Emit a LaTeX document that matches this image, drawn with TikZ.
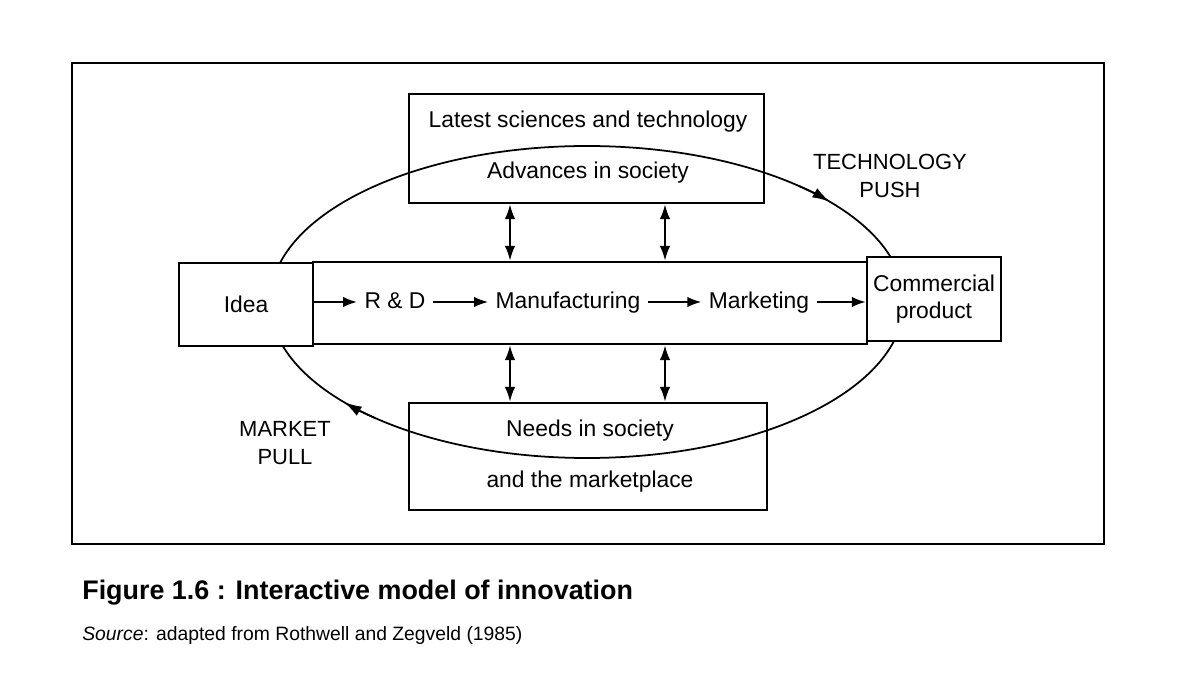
\documentclass[tikz,border=0pt]{standalone}
\usepackage{fontspec}
\setmainfont{Liberation Sans}
\usetikzlibrary{arrows.meta,fit}

\begin{document}
\begin{tikzpicture}[x=0.02cm, y=-0.02cm, font=\fontsize{13}{15}\selectfont,
    box/.style={draw, line width=1.3pt, inner sep=0pt},
    word/.style={inner sep=4pt, text height=9.5pt, text depth=2.5pt},
    arr/.style={-{Latex[length=8pt,width=6pt]}, line width=1.3pt},
    darr/.style={{Latex[length=8.5pt,width=6pt]}-{Latex[length=8.5pt,width=6pt]}, line width=1.3pt},
    cyc/.style={-{Latex[length=10pt,width=6pt]}, line width=1pt}]

\useasboundingbox (0,0) rectangle (1194,692);

% outer frame
\draw[line width=1.4pt] (72,63) rectangle (1104,544);

% the cycle, clockwise
\draw[line width=1pt] (587,302) ellipse [x radius=317, y radius=156];
\draw[cyc] (587,302) ++(-48:317 and 156) arc[start angle=-48, end angle=-40, x radius=317, y radius=156];
\draw[cyc] (587,302) ++(132:317 and 156) arc[start angle=132, end angle=140, x radius=317, y radius=156];

% top and bottom boxes
\node[box, fit={(409,94) (764,203)}] (tech) {};
\node at (588,122) (t1) {Latest sciences and technology};
\node at (588,173) (t2) {Advances in society};

\node[box, fit={(409,403) (767,510)}] (need) {};
\node at (590,431) (n1) {Needs in society};
\node at (590,482) (n2) {and the marketplace};

% middle chain
\node[box, fill=white, fit={(313,262) (867,344)}] (chain) {};
\node[box, fill=white, fit={(179,263) (313,346)}] (idea) {};
\node at (idea) {Idea};
\node[box, fill=white, fit={(867,257) (1001,341)}] (prod) {};
\node[align=center] at (prod) {Commercial\\product};

\foreach \name/\x/\txt in {rd/395/R \& D, manu/568/Manufacturing, mark/759/Marketing} {
    \node[word] (\name) at (\x,302) {\txt};
}

\draw[arr] (idea.east |- rd) -- (rd);
\draw[arr] (rd) -- (manu);
\draw[arr] (manu) -- (mark);
\draw[arr] (mark) -- (prod.west |- mark);

% links up and down
\coordinate (l) at (510,0);
\coordinate (r) at (665,0);
\foreach \c in {l,r} {
    \draw[darr] (tech.south -| \c) -- (chain.north -| \c);
    \draw[darr] (chain.south -| \c) -- (need.north -| \c);
}

% labels on the cycle
\node[align=center, font=\fontsize{12.5}{15.5}\selectfont] (push) at (890,176) {TECHNOLOGY\\PUSH};
\node[align=center, font=\fontsize{12.5}{15.5}\selectfont] (pull) at (285,443) {MARKET\\PULL};

% caption
\node[anchor=base west, inner sep=0pt, font=\fontsize{15.3}{18}\bfseries\selectfont] (cap) at (82,600) {Figure 1.6 : Interactive model of innovation};
\node[anchor=base west, inner sep=0pt, font=\fontsize{11}{13}\selectfont] (src) at (82,640) {\textit{Source}: adapted from Rothwell and Zegveld (1985)};

\end{tikzpicture}
\end{document}
